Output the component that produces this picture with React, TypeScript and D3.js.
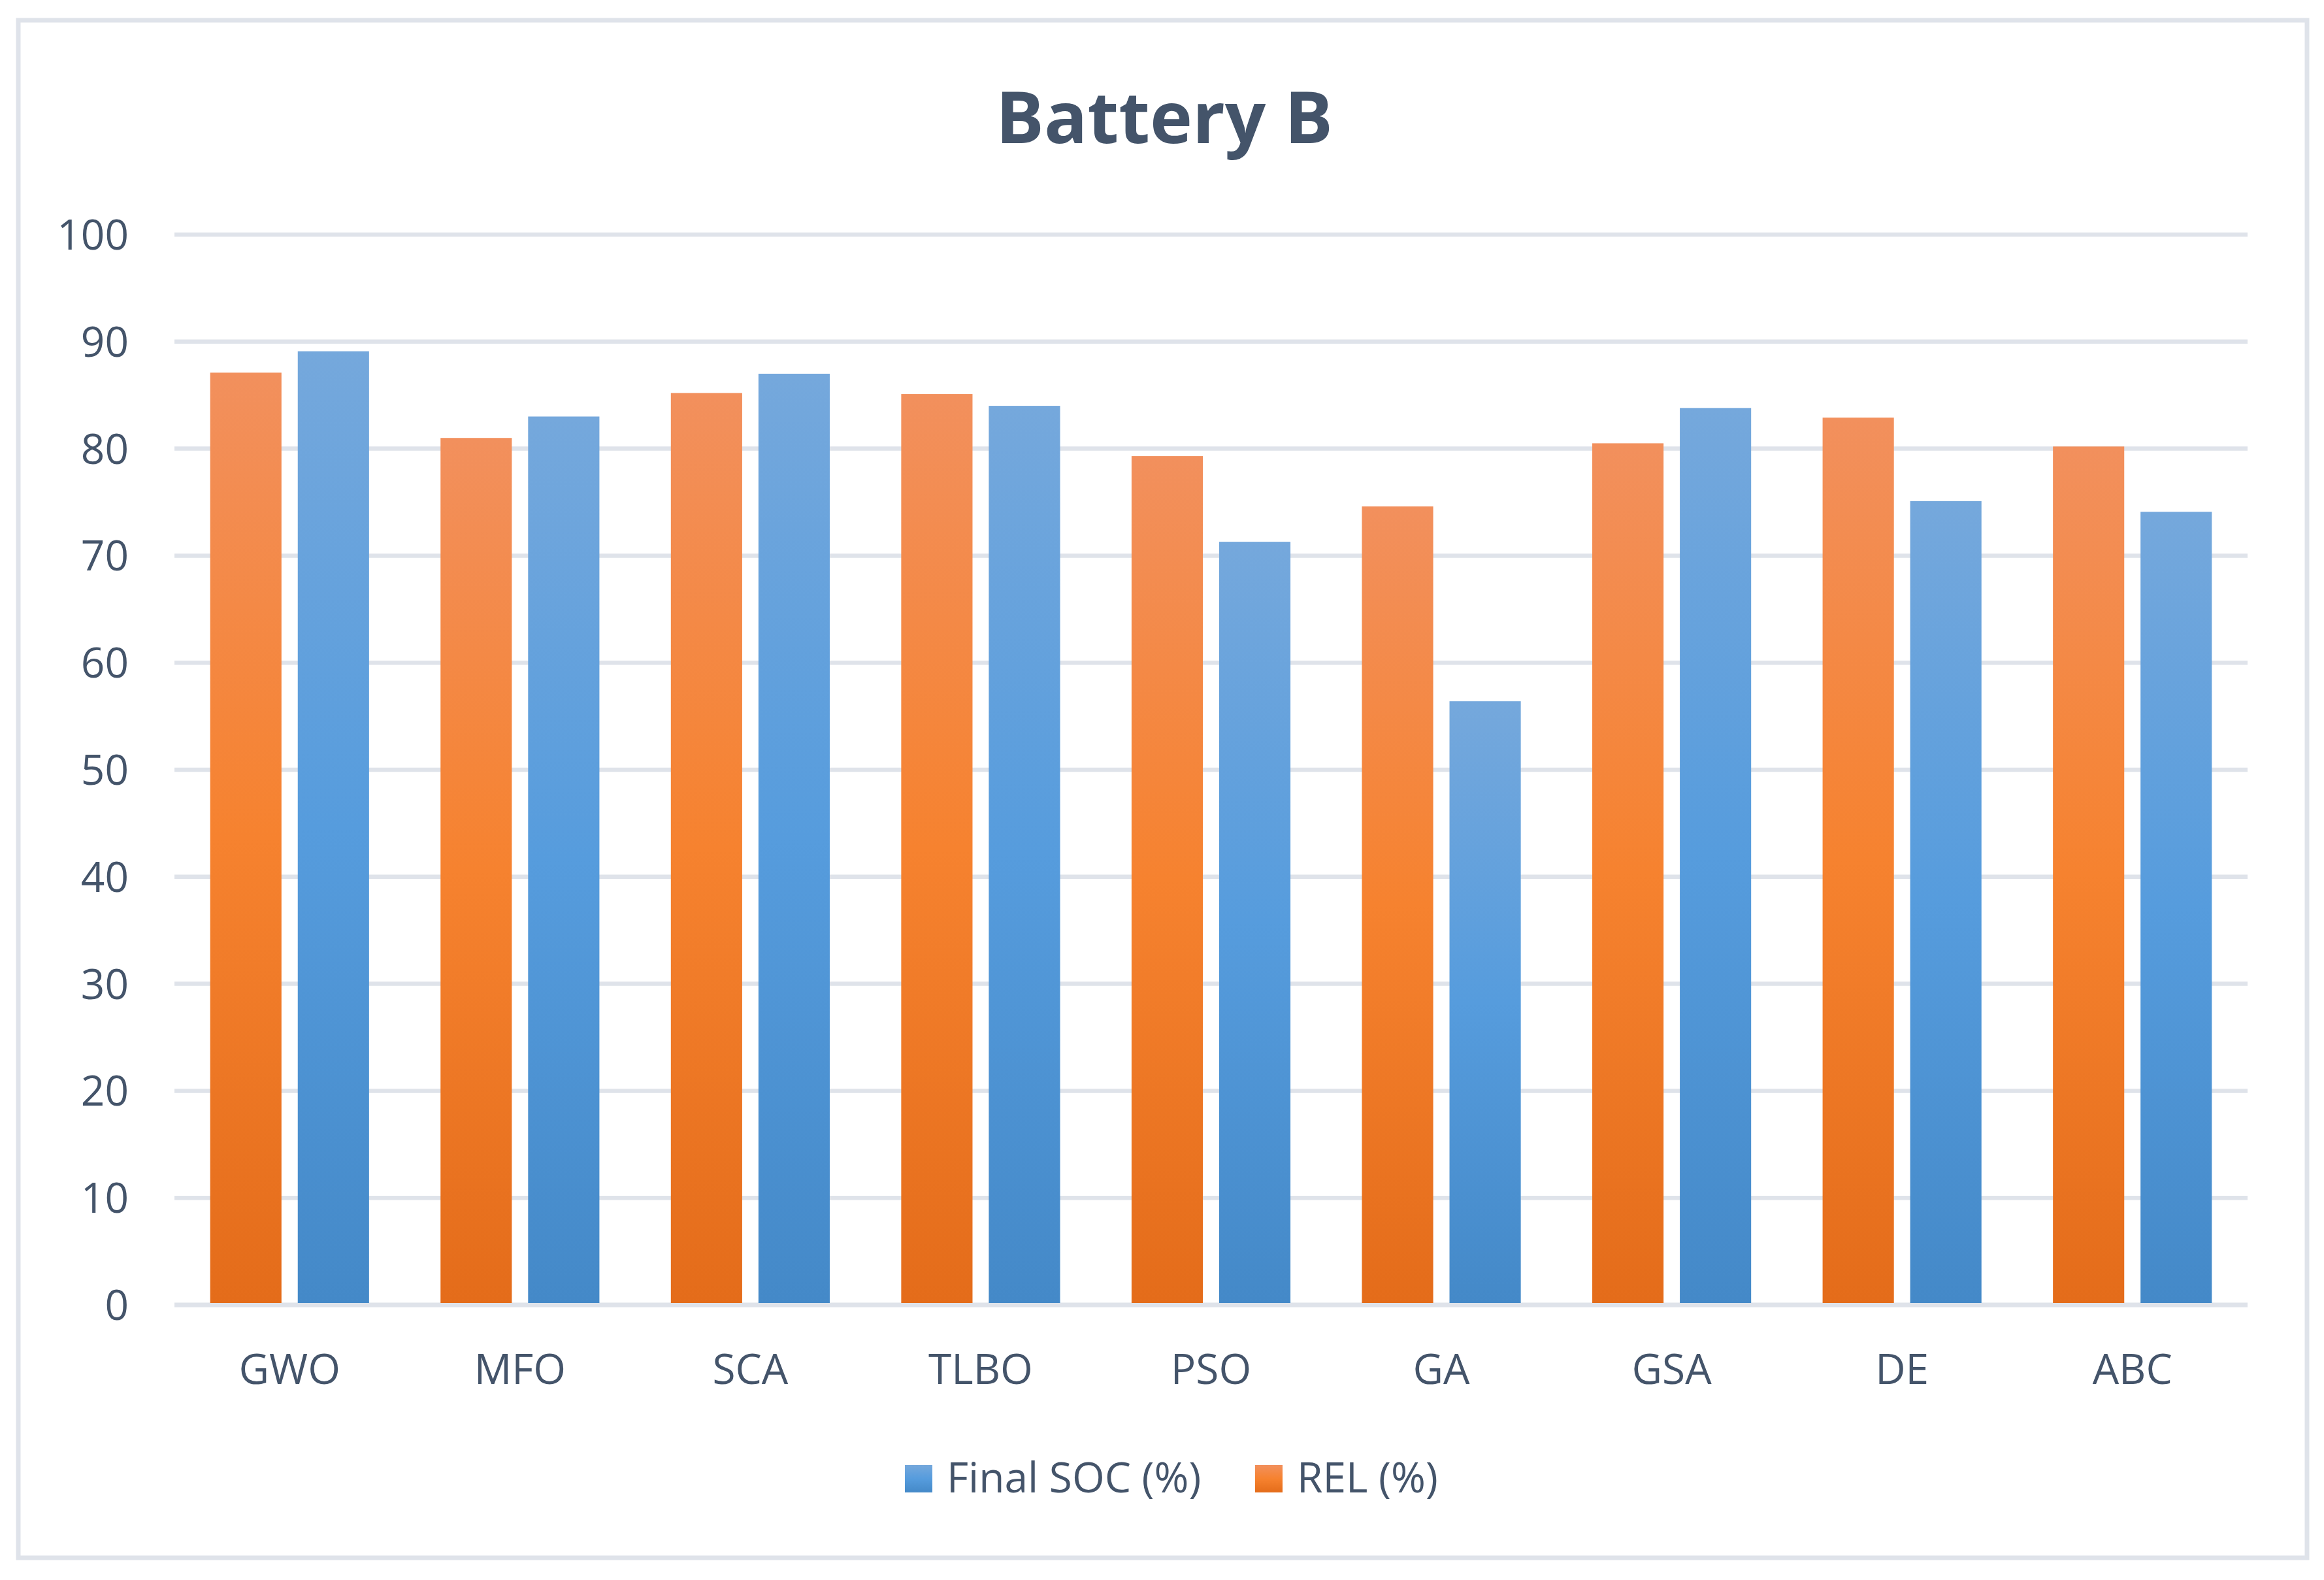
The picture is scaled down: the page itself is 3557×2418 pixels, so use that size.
import { useEffect } from "react";
import * as d3 from "d3";

const categories = ["GWO", "MFO", "SCA", "TLBO", "PSO", "GA", "GSA", "DE", "ABC"];
const relValues = [87.1, 81.0, 85.2, 85.1, 79.3, 74.6, 80.5, 82.9, 80.2];
const socValues = [89.1, 83.0, 87.0, 84.0, 71.3, 56.4, 83.8, 75.1, 74.1];
const yTicks = [0, 10, 20, 30, 40, 50, 60, 70, 80, 90, 100];
const seriesKeys = ["rel", "soc"];
const legendItems = [
  { key: "soc", label: "Final SOC (%)" },
  { key: "rel", label: "REL (%)" },
];

const W = 3557;
const H = 2418;
const m = { top: 359, right: 117, bottom: 420, left: 267 };
const TEXT = "#44546A";
const GRID = "#DFE3EA";
const FONT = "'Open Sans', sans-serif";

const GRADS: Record<string, [string, string, string]> = {
  rel: ["#F2905D", "#F6822F", "#E46C1A"],
  soc: ["#75A8DC", "#569CDD", "#4489C8"],
};

export default function App() {
  useEffect(() => {
    document.body.style.margin = "0";
  }, []);

  const x0 = d3.scaleBand<string>().domain(categories).range([m.left, W - m.right]).padding(0);
  const x1 = d3
    .scaleBand<string>()
    .domain(seriesKeys)
    .range([0, x0.bandwidth()])
    .paddingInner(0.186)
    .paddingOuter(0.408);
  const y = d3.scaleLinear().domain([0, 100]).range([H - m.bottom - 1, m.top]);

  const rows = categories.map((c, i) => ({ cat: c, rel: relValues[i], soc: socValues[i] }));

  return (
    <svg width={W} height={H} style={{ display: "block", background: "#fff" }}>
      <defs>
        {Object.entries(GRADS).map(([k, [a, b, c]]) => (
          <linearGradient key={k} id={`g-${k}`} x1="0" y1="0" x2="0" y2="1">
            <stop offset="0" stopColor={a} />
            <stop offset="0.5" stopColor={b} />
            <stop offset="1" stopColor={c} />
          </linearGradient>
        ))}
      </defs>

      <rect x={28} y={31} width={3503} height={2353} fill="#fff" stroke={GRID} strokeWidth={7} />

      <text
        x={1782}
        y={219}
        textAnchor="middle"
        fontFamily={FONT}
        fontWeight={700}
        fontSize={110}
        fill={TEXT}
      >
        Battery B
      </text>

      {/* grid */}
      {yTicks.map((t) => (
        <g key={t}>
          <line x1={m.left} x2={W - m.right} y1={y(t)} y2={y(t)} stroke={GRID} strokeWidth={t === 0 ? 7 : 6.5} />
          <text
            x={197}
            y={y(t)}
            dy="0.36em"
            textAnchor="end"
            fontFamily={FONT}
            fontSize={64}
            fill={TEXT}
          >
            {t}
          </text>
        </g>
      ))}

      {/* bars */}
      {rows.map((r) => (
        <g key={r.cat} transform={`translate(${x0(r.cat)},0)`}>
          {seriesKeys.map((k) => {
            const v = (r as any)[k] as number;
            return (
              <rect
                key={k}
                x={x1(k)}
                y={y(v)}
                width={x1.bandwidth()}
                height={y(0) - y(v) - 3}
                fill={`url(#g-${k})`}
              />
            );
          })}
          <text
            x={x0.bandwidth() / 2}
            y={2118}
            textAnchor="middle"
            fontFamily={FONT}
            fontSize={64}
            fill={TEXT}
          >
            {r.cat}
          </text>
        </g>
      ))}

      {/* legend */}
      {legendItems.map((it, i) => {
        const lx = i === 0 ? 1385 : 1921;
        return (
          <g key={it.key} transform={`translate(${lx},2242)`}>
            <rect width={42} height={42} fill={`url(#g-${it.key})`} />
            <text x={64} y={42} fontFamily={FONT} fontSize={64} fill={TEXT}>
              {it.label}
            </text>
          </g>
        );
      })}
    </svg>
  );
}
